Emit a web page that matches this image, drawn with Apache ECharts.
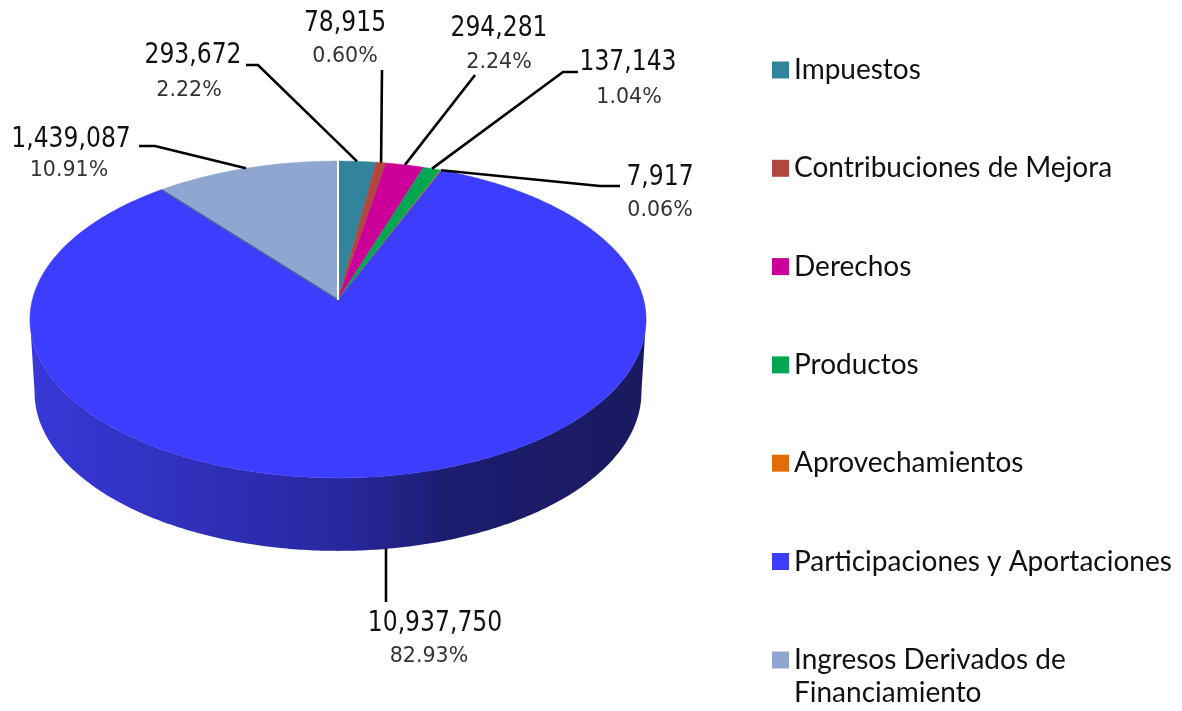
<!DOCTYPE html>
<html><head><meta charset="utf-8">
<style>html,body{margin:0;padding:0;background:#fff}#c{width:1182px;height:711px}</style>
<script src="https://cdn.jsdelivr.net/npm/echarts@6/dist/echarts.min.js"></script>
</head><body><div id="c"></div>
<script>
const categories = ['Impuestos','Contribuciones de Mejora','Derechos','Productos','Aprovechamientos','Participaciones y Aportaciones','Ingresos Derivados de\nFinanciamiento'];
const values = [293672,78915,294281,137143,7917,10937750,1439087];
const percentLabels = ['2.22%','0.60%','2.24%','1.04%','0.06%','82.93%','10.91%'];
const colors = ['#31849b','#b0483f','#cc0099','#00a651','#e36c09','#3d3dff','#8ea6d0'];

// Layout of the projected pie and its annotations (pixels)
const CX=338, CY=300, RX=305.7, RY=156, K=0.123, DEPTH=73, BOTTOM_SHRINK=0.985;
const valuePos=[[193,55],[345,23],[499,28],[628,62],[660,177],[435,623],[71,139]];
const pctPos=[[189,90.5],[345,56.5],[499,62.5],[629,97.5],[660,210.5],[429,656.5],[69,170.5]];
const leaderKnees=[[[258,65],[246,65]],[[382,70]],[[475,75]],[[563,72],[578,72]],[[600,186],[620,186]],[[386,602]],[[155,146],[139,146]]];
const VALUE_FONT='29px "DejaVu Sans"', VALUE_SCALE=0.81, PCT_FONT='21px "DejaVu Sans"', PCT_SCALE=0.98;

const total=values.reduce((s,v)=>s+v,0);
const TAU=Math.PI*2;
function startAngle(i){let s=0;for(let j=0;j<i;j++)s+=values[j];return s/total*TAU;}
function project(a,bottom){
  const u=Math.sin(a),v=Math.cos(a),w=1/(1+K*v);
  return [CX+RX*u*w*(bottom?BOTTOM_SHRINK:1),CY-RY*v*w+(bottom?DEPTH:0)];
}
function rim(a0,a1,bottom){
  const n=Math.max(2,Math.ceil((a1-a0)/0.01)),pts=[];
  for(let i=0;i<=n;i++)pts.push(project(a0+(a1-a0)*i/n,bottom));
  return pts;
}
const FRONT0=97*Math.PI/180, FRONT1=263*Math.PI/180;
function sliceRender(i){
  return function(params,api){
    const v=api.value(0),a0=startAngle(i),a1=a0+v/total*TAU,children=[];
    const f0=Math.max(a0,FRONT0),f1=Math.min(a1,FRONT1);
    if(f1>f0){
      children.push({type:'polygon',shape:{points:rim(f0,f1,false).concat(rim(f0,f1,true).reverse())},
        style:{fill:new echarts.graphic.LinearGradient(0,0,1,0,[
          {offset:0,color:'#3838d8'},{offset:0.25,color:'#3030bc'},{offset:0.5,color:'#2828a0'},
          {offset:0.68,color:'#1c1c70'},{offset:1,color:'#1a1a60'}]),stroke:null}});
    }
    children.push({type:'polygon',shape:{points:[[CX,CY]].concat(rim(a0,a1,false))},style:{fill:colors[i],stroke:colors[i],lineWidth:0.5}});
    if(i===values.length-1){
      children.push({type:'line',shape:{x1:CX,y1:CY,x2:project(a0,false)[0],y2:project(a0,false)[1]},style:{stroke:'#4a5aa8',lineWidth:1.5}});
      children.push({type:'line',shape:{x1:CX,y1:CY,x2:project(a1,false)[0],y2:project(a1,false)[1]},style:{stroke:'#ffffff',lineWidth:2}});
    }
    return {type:'group',children};
  };
}
function labelRender(params,api){
  const i=params.dataIndex,v=api.value(0),a=startAngle(i)+v/total*TAU/2;
  const front=Math.cos(a)<0;
  const anchor=project(a,front);
  const pts=[anchor].concat(leaderKnees[i]);
  if(front)pts[0]=[leaderKnees[i][0][0],anchor[1]];
  return {type:'group',children:[
    {type:'polyline',shape:{points:pts},style:{stroke:'#000',lineWidth:2.6,fill:null}},
    {type:'text',x:valuePos[i][0],y:valuePos[i][1],scaleX:VALUE_SCALE,
      style:{text:v.toLocaleString('en-US'),font:VALUE_FONT,fill:'#111',align:'center',verticalAlign:'middle'}},
    {type:'text',x:pctPos[i][0],y:pctPos[i][1],scaleX:PCT_SCALE,
      style:{text:percentLabels[i],font:PCT_FONT,fill:'#333',align:'center',verticalAlign:'middle'}}
  ]};
}
const series=categories.map((name,i)=>({
  type:'custom',name,coordinateSystem:'none',silent:true,animation:false,z:2,
  itemStyle:{color:colors[i]},data:[[values[i]]],renderItem:sliceRender(i),clip:false
}));
series.push({type:'custom',name:'Etiquetas',coordinateSystem:'none',silent:true,animation:false,z:5,
  data:values.map(v=>[v]),renderItem:labelRender,clip:false});

const LEGEND_FONT={fontFamily:'Lato',fontSize:28,color:'#111',lineHeight:33};
const legendBase={orient:'vertical',left:772,padding:0,itemWidth:17,itemHeight:17,itemGap:65.3,icon:'rect',selectedMode:false,textStyle:LEGEND_FONT};
const chart=echarts.init(document.getElementById('c'),null,{renderer:'canvas'});
chart.setOption({
  backgroundColor:'#fff',animation:false,
  legend:[
    Object.assign({},legendBase,{top:53.5,data:categories.slice(0,6)}),
    // The leading empty line keeps the swatch level with the first visible line of this two-line entry.
    Object.assign({},legendBase,{top:610.5,data:[categories[6]],formatter:n=>'\n'+n})
  ],
  series
});
</script></body></html>
